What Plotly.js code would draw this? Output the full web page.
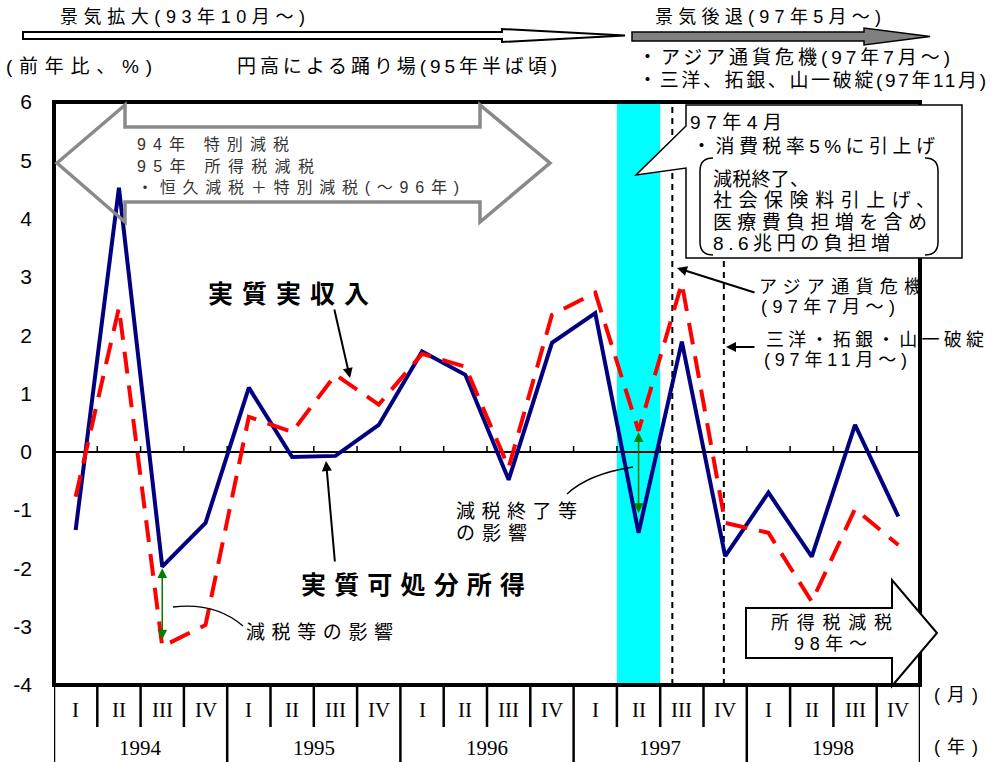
<!DOCTYPE html>
<html>
<head>
<meta charset="utf-8">
<script src="https://cdn.plot.ly/plotly-3.0.1.min.js"></script>
<style>
html,body{margin:0;padding:0;background:#fff;}
#chart{width:1000px;height:762px;}
</style>
</head>
<body>
<div id="chart"></div>
<script>
// ---- data ----
const quarters = ['I','II','III','IV','I','II','III','IV','I','II','III','IV','I','II','III','IV','I','II','III','IV'];
const years = ['1994','1995','1996','1997','1998'];
// 実質可処分所得 (前年比, %)
const disposableIncome = [-1.34, 4.53, -1.97, -1.22, 1.10, -0.09, -0.07, 0.46, 1.72, 1.32, -0.48, 1.87, 2.38, -1.39, 1.89, -1.79, -0.70, -1.80, 0.46, -1.11];
// 実質実収入 (前年比, %)
const realIncome = [-0.77, 2.47, -3.34, -2.97, 0.60, 0.34, 1.32, 0.81, 1.68, 1.46, -0.27, 2.35, 2.73, 0.36, 2.89, -1.22, -1.39, -2.57, -0.98, -1.60];
const yTickVals = [6, 5, 4, 3, 2, 1, 0, -1, -2, -3, -4];
const yTickText = ['6', '5', '4', '3', '2', '1', '0', '-1', '-2', '-3', '-4'];

const xIdx = quarters.map((q, i) => i);

// ---- geometry helpers (plot area in pixels) ----
const L = 54, R = 920, T = 102, B = 685;
const W = R - L, H = B - T;
const X = p => (p - L) / W;
const Y = p => (B - p) / H;
const P = pts => 'M ' + pts.map(p => X(p[0]).toFixed(5) + ',' + Y(p[1]).toFixed(5)).join(' L ') + ' Z';
const JP = '"Liberation Sans", "Noto Sans CJK JP", sans-serif';
const SERIF = '"Liberation Serif", "DejaVu Serif", serif';

const ann = [];
const fits = []; // [annotation index, target width in px]
function txt(s, x, y, size, o) {
  o = o || {};
  ann.push({
    text: s, xref: 'paper', yref: 'paper', x: X(x), y: Y(y),
    xanchor: 'left', yanchor: 'middle', align: 'left', showarrow: false,
    font: {family: JP, size: size, color: o.color || '#000', weight: o.weight || 'normal'}
  });
  if (o.w) fits.push([ann.length - 1, o.w]);
}
function arrow(hx, hy, tx, ty) {
  ann.push({
    text: '', xref: 'paper', yref: 'paper', x: X(hx), y: Y(hy),
    ax: tx - hx, ay: ty - hy, showarrow: true, arrowhead: 2,
    arrowsize: 1, arrowwidth: 2, arrowcolor: '#000', standoff: 0, startstandoff: 0
  });
}

const traces = [
  {x: xIdx, y: disposableIncome, type: 'scatter', mode: 'lines', name: '実質可処分所得',
   line: {color: '#000080', width: 4}},
  {x: xIdx, y: realIncome, type: 'scatter', mode: 'lines', name: '実質実収入',
   line: {color: '#ff0000', width: 4, dash: '22px,12px'}}
];

const shapes = [];
// cyan band: 1997 Q2
shapes.push({type: 'rect', xref: 'x', yref: 'paper', x0: 12.5, x1: 13.5, y0: 0, y1: 1,
  fillcolor: '#00ffff', line: {width: 0}, layer: 'below'});
// dashed event lines (97/7, 97/11)
[13.78, 14.97].forEach(v => shapes.push({type: 'line', xref: 'x', yref: 'paper', x0: v, x1: v, y0: 0, y1: 1,
  line: {color: '#000', width: 2, dash: '6px,5px'}, layer: 'below'}));
// ticks on zero line
for (let k = 1; k < quarters.length; k++) {
  shapes.push({type: 'line', xref: 'x', yref: 'y', x0: k - 0.5, x1: k - 0.5, y0: 0, y1: 0.1,
    line: {color: '#000', width: 1.5}});
}
// frame
shapes.push({type: 'rect', xref: 'paper', yref: 'paper', x0: 0, x1: 1, y0: 0, y1: 1,
  line: {color: '#000', width: 4}});
// table below axis
const yQ = Y(727), yBot = Y(762);
for (let k = 0; k <= quarters.length; k++) {
  const isYear = (k % 4 === 0);
  shapes.push({type: 'line', xref: 'x', yref: 'paper', x0: k - 0.5, x1: k - 0.5, y0: 0, y1: isYear ? yBot : yQ,
    line: {color: '#000', width: 2.5}});
}
// big gray double arrow (tax cuts)
shapes.push({type: 'path', xref: 'paper', yref: 'paper',
  path: P([[57,163],[125,105],[125,127],[480,127],[480,105],[550,163],[480,222],[480,202],[125,202],[125,222]]),
  line: {color: '#8a8a8a', width: 3.5}, fillcolor: 'rgba(0,0,0,0)'});
// callout box (97年4月)
shapes.push({type: 'path', xref: 'paper', yref: 'paper',
  path: P([[686,105],[962,105],[962,258],[686,258],[686,168],[636,175],[686,126]]),
  line: {color: '#000', width: 1.5}, fillcolor: '#fff'});
// inner brackets
shapes.push({type: 'path', xref: 'paper', yref: 'paper',
  path: 'M ' + X(713) + ',' + Y(158) + ' Q ' + X(700) + ',' + Y(158) + ' ' + X(700) + ',' + Y(171) +
        ' L ' + X(700) + ',' + Y(242) + ' Q ' + X(700) + ',' + Y(255) + ' ' + X(713) + ',' + Y(255),
  line: {color: '#000', width: 1.5}});
shapes.push({type: 'path', xref: 'paper', yref: 'paper',
  path: 'M ' + X(925) + ',' + Y(158) + ' Q ' + X(938) + ',' + Y(158) + ' ' + X(938) + ',' + Y(171) +
        ' L ' + X(938) + ',' + Y(242) + ' Q ' + X(938) + ',' + Y(255) + ' ' + X(925) + ',' + Y(255),
  line: {color: '#000', width: 1.5}});
// 所得税減税 arrow
shapes.push({type: 'path', xref: 'paper', yref: 'paper',
  path: P([[746,608],[892,608],[892,580],[937,633],[892,686],[892,658],[746,658]]),
  line: {color: '#000', width: 2}, fillcolor: '#fff'});
// top arrows
shapes.push({type: 'path', xref: 'paper', yref: 'paper',
  path: P([[23,32],[502,32],[502,29],[625,35.5],[502,42],[502,39],[23,39]]),
  line: {color: '#000', width: 2}, fillcolor: '#fff'});
shapes.push({type: 'path', xref: 'paper', yref: 'paper',
  path: P([[632,32],[864,32],[864,28],[930,36.5],[864,45],[864,41],[632,41]]),
  line: {color: '#000', width: 1.5}, fillcolor: '#808080'});
// curved leader lines
shapes.push({type: 'path', xref: 'paper', yref: 'paper',
  path: 'M ' + X(173) + ',' + Y(607) + ' Q ' + X(215) + ',' + Y(602) + ' ' + X(243) + ',' + Y(626),
  line: {color: '#000', width: 1.3}});
shapes.push({type: 'path', xref: 'paper', yref: 'paper',
  path: 'M ' + X(567) + ',' + Y(494) + ' Q ' + X(588) + ',' + Y(474) + ' ' + X(633) + ',' + Y(467),
  line: {color: '#000', width: 1.3}});

// x-axis table labels
quarters.forEach((q, i) => ann.push({text: q, xref: 'x', yref: 'paper', x: i, y: Y(710), showarrow: false,
  xanchor: 'center', yanchor: 'middle', font: {family: SERIF, size: 21, color: '#000'}}));
years.forEach((yr, j) => ann.push({text: yr, xref: 'x', yref: 'paper', x: j * 4 + 1.5, y: Y(748), showarrow: false,
  xanchor: 'center', yanchor: 'middle', font: {family: SERIF, size: 21, color: '#000'}}));
txt('(月)', 932, 695, 18, {w: 44});
txt('(年)', 932, 747, 18, {w: 44});
// header texts
txt('景気拡大(93年10月～)', 58, 17, 18, {w: 245});
txt('景気後退(97年5月～)', 653, 17, 18, {w: 226});
txt('・アジア通貨危機(97年7月～)', 636, 57, 19, {w: 312});
txt('・三洋、拓銀、山一破綻(97年11月)', 636, 80, 19, {w: 348});
txt('(前年比、%)', 4, 67, 19, {w: 146});
txt('円高による踊り場(95年半ば頃)', 235, 67, 19, {w: 320});
// inside big arrow
txt('94年 特別減税', 135, 145, 16, {color: '#333', w: 152});
txt('95年 所得税減税', 135, 166, 16, {color: '#333', w: 177});
txt('・恒久減税＋特別減税(～96年)', 135, 187, 16, {color: '#333', w: 322});
// callout
txt('97年4月', 688, 122, 19, {w: 92});
txt('・消費税率5%に引上げ', 690, 146, 19, {w: 243});
txt('減税終了、', 711, 179, 19, {w: 96});
txt('社会保険料引上げ、', 711, 201, 19, {w: 222});
txt('医療費負担増を含め', 711, 222, 19, {w: 214});
txt('8.6兆円の負担増', 711, 243, 19, {w: 177});
// event labels
txt('アジア通貨危機', 757, 287, 18, {w: 163});
txt('(97年7月～)', 759, 307, 18, {w: 134});
txt('三洋・拓銀・山一破綻', 764, 340, 18, {w: 218});
txt('(97年11月～)', 762, 360, 18, {w: 143});
arrow(677, 268, 756, 293);
arrow(726, 347, 756, 347);
// series labels
txt('実質実収入', 206, 294, 25, {weight: 'bold', w: 161});
arrow(350, 378, 334, 308);
txt('実質可処分所得', 299, 585, 25, {weight: 'bold', w: 224});
arrow(326, 461, 335, 563);
// effect labels
txt('減税等の影響', 244, 632, 19, {w: 147});
txt('減税終了等', 454, 511, 19, {w: 121});
txt('の影響', 454, 533, 19, {w: 71});
txt('所得税減税', 769, 623, 18, {w: 121});
txt('98年～', 792, 644, 18, {w: 73});
// green double arrows (tax effect)
[[2, -3.22, -1.97], [13, -1.05, 0.36]].forEach(a => ann.push({
  text: '', xref: 'x', yref: 'y', x: a[0], y: a[1], axref: 'x', ayref: 'y', ax: a[0], ay: a[2],
  showarrow: true, arrowside: 'end+start', arrowhead: 2, arrowsize: 1.3, arrowwidth: 1.5, arrowcolor: '#008000',
  standoff: 0, startstandoff: 0}));

const layout = {
  width: 1000, height: 762,
  margin: {l: L, r: 1000 - R, t: T, b: 762 - B, pad: 0},
  paper_bgcolor: '#fff', plot_bgcolor: '#fff',
  showlegend: false,
  xaxis: {range: [-0.5, quarters.length - 0.5], showticklabels: false, showgrid: false, zeroline: false,
    ticks: '', showline: false, fixedrange: true},
  yaxis: {range: [-4, 6], tickmode: 'array', tickvals: yTickVals, ticktext: yTickText, showgrid: false,
    zeroline: true, zerolinecolor: '#000', zerolinewidth: 1.5, ticks: '', showline: false,
    ticklabelstandoff: 21, tickfont: {family: '"Liberation Sans", Arial, sans-serif', size: 21, color: '#000'},
    fixedrange: true},
  shapes: shapes,
  annotations: ann
};

Plotly.newPlot('chart', traces, layout, {displayModeBar: false, staticPlot: true}).then(() => {
  // adjust character spacing so each text line spans the same width as in the reference
  fits.forEach(([idx, target]) => {
    const t = document.querySelector('.annotation[data-index="' + idx + '"] text.annotation-text');
    if (!t) return;
    const w = t.getComputedTextLength();
    const n = t.textContent.length;
    const ls = (target - w) / Math.max(n - 1, 1);
    t.style.letterSpacing = Math.max(-2, Math.min(ls, 12)).toFixed(2) + 'px';
  });
});
</script>
</body>
</html>
